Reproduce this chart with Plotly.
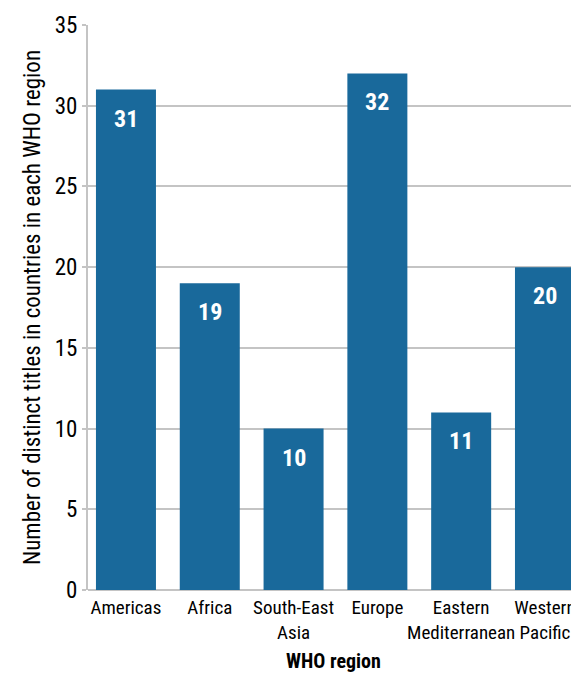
import plotly.graph_objects as go

regions = ["Americas", "Africa", "South-East<br>Asia", "Europe", "Eastern<br>Mediterranean", "Western<br>Pacific"]
titles = [31, 19, 10, 32, 11, 20]
y_ticks = [0, 5, 10, 15, 20, 25, 30, 35]

FONT = "Liberation Sans Narrow, Arial Narrow, Roboto Condensed, sans-serif"
BAR = "#19699b"
GRID = "#c4c4c4"

x_idx = list(range(len(regions)))

fig = go.Figure(go.Bar(x=x_idx, y=titles, marker=dict(color=BAR, line=dict(width=0)), width=0.716))

for i, v in zip(x_idx, titles):
    fig.add_annotation(x=i, y=v, text=f"<b>{v}</b>", showarrow=False, yanchor="top", yshift=-13,
                       font=dict(family=FONT, size=24, color="white"))

fig.update_layout(
    width=571, height=665,
    margin=dict(l=80, r=0, t=17, b=83, pad=0, autoexpand=False),
    plot_bgcolor="white", paper_bgcolor="white",
    font=dict(family=FONT, color="black"),
    showlegend=False,
    xaxis=dict(
        tickmode="array", tickvals=x_idx, ticktext=regions,
        range=[-0.453, 5.406], tickangle=0, ticklabeloverflow="allow",
        tickfont=dict(size=19, family=FONT), ticklabelstandoff=4,
        showgrid=False, showline=False, ticks="", automargin=False,
        title=dict(text="<b>WHO region</b>", font=dict(size=20, family=FONT), standoff=12),
    ),
    yaxis=dict(
        range=[0, 35], tickvals=y_ticks, automargin=False,
        tickfont=dict(size=23, family=FONT),
        showgrid=True, gridcolor=GRID, gridwidth=1.5,
        showline=True, linecolor=GRID, linewidth=2,
        zeroline=True, zerolinecolor=GRID, zerolinewidth=2,
        ticks="outside", ticklen=4, tickcolor=GRID, tickwidth=1.5,
        title=dict(text="Number of distinct titles in countries in each WHO region",
                   font=dict(size=23, family=FONT), standoff=8),
    ),
)

fig.write_html("out.html")
